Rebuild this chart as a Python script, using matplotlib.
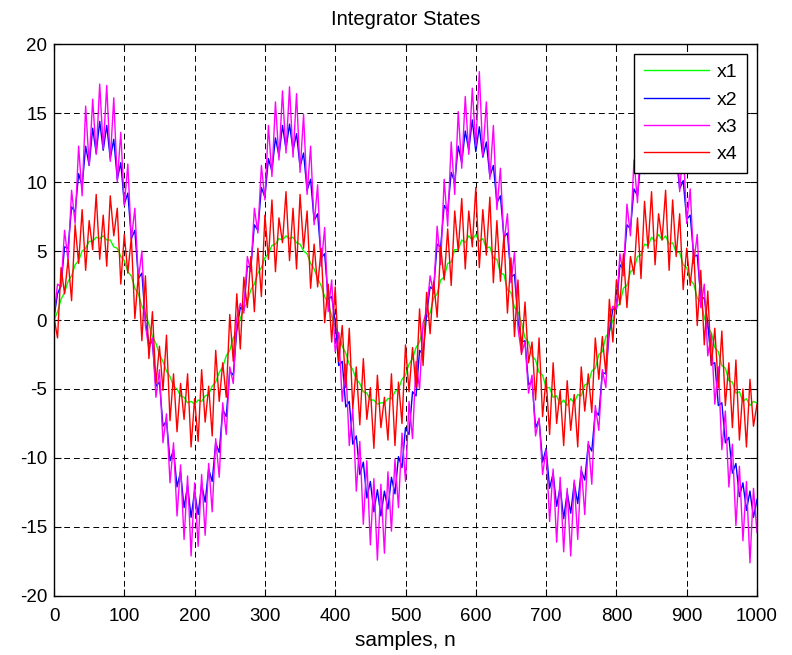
import numpy as np
import matplotlib
matplotlib.use('Agg')
import matplotlib.pyplot as plt

x1 = [0.0, 0.6, 1.5, 2.0, 2.8, 3.2, 4.0, 4.3, 5.0, 5.2, 5.7, 5.7, 6.0, 5.9, 6.1, 5.8, 5.8, 5.3, 5.2, 4.6,
      4.3, 3.5, 3.2, 2.3, 1.9, 1.0, 0.5, -0.3, -1.2, -1.7, -2.5, -3.0, -3.7, -4.1, -4.8, -5.0, -5.5, -5.6,
      -6.0, -5.9, -6.1, -5.8, -5.9, -5.5, -5.4, -4.8, -4.5, -3.8, -3.4, -2.6, -2.2, -1.3, -0.8,
      0.1, 0.8, 1.3, 2.2, 2.6, 3.4, 3.8, 4.5, 4.8, 5.4, 5.5, 5.9, 5.8, 6.1, 5.9, 6.0, 5.6, 5.5, 5.0, 4.8,
      4.1, 3.7, 3.0, 2.5, 1.7, 1.2, 0.3, -0.5, -1.0, -1.9, -2.4, -3.2, -3.6, -4.3, -4.6, -5.2, -5.3,
      -5.8, -5.8, -6.1, -6.0, -6.0, -5.7, -5.7, -5.2, -5.0, -4.3, -4.0, -3.2, -2.8, -2.0, -1.6, -0.6,
      0.2, 0.5, 1.6, 1.9, 2.9, 3.1, 4.1, 4.2, 5.1, 5.1, 5.8, 5.6, 6.1, 5.8, 6.2, 5.7, 5.9, 5.2, 5.3, 4.5,
      4.4, 3.4, 3.3, 2.2, 2.0, 0.9, 0.6, -0.2, -1.3, -1.6, -2.6, -2.9, -3.8, -4.0, -4.9, -4.9, -5.6,
      -5.5, -6.1, -5.8, -6.2, -5.7, -6.0, -5.4, -5.5, -4.7, -4.6, -3.7, -3.5, -2.5, -2.3, -1.2, -0.9,
      0.0, 0.9, 1.2, 2.3, 2.5, 3.5, 3.7, 4.6, 4.7, 5.5, 5.4, 6.0, 5.7, 6.2, 5.8, 6.1, 5.5, 5.6, 4.9, 4.9,
      4.0, 3.8, 2.9, 2.6, 1.6, 1.3, 0.2, -0.6, -0.9, -2.0, -2.3, -3.3, -3.5, -4.4, -4.5, -5.3, -5.2,
      -5.9, -5.7, -6.2, -5.9, -6.0]

x2 = [0.2, 1.9, 2.5, 5.3, 5.2, 8.2, 7.8, 10.6, 9.7, 12.6, 11.2, 13.9, 12.1, 14.4, 12.3, 14.1, 11.7, 13.1,
      10.2, 11.4, 8.4, 9.2, 5.9, 6.5, 3.0, 3.4, -0.1,
      -1.7, -1.6, -4.8, -4.5, -7.7, -7.3, -10.2, -9.4, -12.1, -11.0, -13.6, -12.0, -14.3, -12.4, -14.1,
      -11.9, -13.2, -10.8, -11.7, -8.9, -9.6, -6.5, -7.0, -3.7, -4.0, -0.7,
      0.9, 0.7, 3.9, 3.8, 6.9, 6.5, 9.6, 8.9, 11.7, 10.8, 13.2, 11.9, 14.1, 12.4, 14.2, 12.3, 13.5, 11.1,
      12.1, 9.4, 10.2, 7.2, 7.7, 4.5, 4.8, 1.5, 1.7,
      -0.1, -3.3, -3.0, -6.3, -5.9, -9.0, -8.4, -11.2, -10.3, -12.9, -11.7, -13.9, -12.3, -14.2, -12.4,
      -13.7, -11.4, -12.6, -9.9, -10.7, -7.8, -8.3, -5.2, -5.5, -2.2, -2.5,
      0.4, 2.4, 2.2, 5.5, 5.3, 8.3, 7.9, 10.7, 10.0, 12.6, 11.4, 13.7, 12.3, 14.5, 12.2, 14.0, 11.8, 12.9,
      10.4, 11.2, 8.5, 9.0, 6.0, 6.3, 3.1, 3.3, 0.0,
      -1.6, -1.5, -4.7, -4.4, -7.8, -7.2, -10.3, -9.3, -12.2, -11.1, -13.5, -12.1, -14.4, -12.5, -14.0,
      -11.8, -13.3, -10.9, -11.6, -9.0, -9.5, -6.6, -6.9, -3.8, -3.9, -0.8,
      0.8, 0.8, 4.0, 3.7, 6.9, 6.6, 9.5, 9.0, 11.6, 10.9, 13.1, 12.0, 14.0, 12.5, 14.3, 12.2, 13.6, 11.2,
      12.0, 9.5, 10.1, 7.3, 7.6, 4.6, 4.7, 1.6, 1.6,
      -0.2, -3.2, -3.1, -6.2, -6.0, -8.9, -8.5, -11.1, -10.4, -12.8, -11.8, -13.8, -12.4, -14.3, -13.0]

x3 = [0.3, 2.6, 2.4, 6.5, 4.3, 9.4, 7.0, 12.6, 9.0, 15.5, 11.2, 16.0, 12.0, 17.1, 12.4, 17.0, 11.5, 16.1,
      10.0, 13.6, 8.3, 11.3, 5.8, 8.1, 2.9, 5.0, -0.4,
      -2.1, -1.3, -5.6, -3.6, -8.9, -6.8, -11.8, -8.9, -14.2, -10.5, -15.9, -11.3, -17.1, -11.8, -16.4,
      -11.2, -15.6, -10.4, -13.9, -8.6, -11.4, -6.0, -8.3, -3.4, -4.6, 0.1,
      1.2, 0.5, 4.6, 3.5, 8.1, 6.3, 11.2, 8.7, 14.1, 10.4, 15.8, 11.6, 16.6, 12.1, 16.9, 11.8, 16.4, 10.7,
      14.9, 9.1, 12.6, 6.9, 9.8, 3.9, 6.7, 0.6, 2.9,
      -2.3, -0.9, -5.9, -3.2, -9.1, -6.4, -12.4, -8.8, -14.8, -10.2, -16.3, -11.5, -17.4, -11.9, -16.9,
      -11.0, -15.3, -10.1, -13.6, -8.2, -11.7, -5.9, -8.6, -3.0, -5.0, -0.2,
      0.6, 3.2, 1.9, 6.8, 4.0, 10.2, 6.8, 12.9, 9.1, 15.1, 11.0, 16.2, 12.0, 16.8, 12.6, 18.0, 11.9, 15.8,
      10.2, 14.1, 8.0, 11.0, 5.6, 7.7, 2.7, 4.9, -0.6,
      -2.4, -1.6, -5.3, -4.0, -8.4, -7.1, -11.2, -9.4, -14.6, -10.8, -16.1, -11.4, -16.8, -12.2, -17.1,
      -11.6, -15.9, -10.6, -14.1, -8.8, -11.9, -6.2, -8.0, -3.6, -4.9, 0.3,
      1.0, 0.8, 4.8, 3.2, 8.4, 6.1, 11.6, 8.5, 13.8, 10.6, 15.5, 11.3, 16.5, 12.3, 17.3, 11.9, 16.2, 10.9,
      14.7, 9.3, 12.7, 7.0, 9.5, 4.1, 6.2, 0.9, 2.6,
      -2.6, -1.0, -6.1, -3.4, -9.4, -6.6, -12.1, -9.0, -14.9, -10.6, -16.0, -11.7, -17.6, -12.2, -15.4]

x4 = [0.2, -1.3, 3.8, 1.9, 4.4, 1.4, 6.9, 4.1, 8.0, 3.6, 7.2, 5.1, 9.1, 4.4, 7.6, 3.9, 9.0, 6.1, 8.1, 2.6,
      6.2, 3.4, 6.0, 0.1, 3.3, -1.5, 3.2,
      -2.8, 0.6, -4.6, -1.9, -5.1, -1.1, -7.3, -3.9, -8.1, -4.6, -7.2, -3.9, -9.2, -5.7, -8.8, -3.6, -7.4,
      -4.8, -8.4, -2.2, -5.9, -3.1, -5.6, 0.4, -3.0, 1.9,
      -2.1, 3.1, 0.9, 4.6, 0.6, 5.2, 1.7, 7.6, 4.4, 8.7, 3.5, 7.4, 5.6, 9.3, 4.3, 8.1, 3.7, 9.1, 5.2, 7.9,
      2.3, 5.5, 2.4, 5.2, -0.2, 2.6, -1.6,
      2.4, -3.0, -0.4, -4.9, -0.6, -6.4, -3.4, -7.6, -2.8, -7.2, -4.9, -9.3, -4.0, -7.8, -5.6, -8.7, -3.9,
      -9.1, -4.5, -7.5, -1.8, -5.2, -2.0, -4.9, 0.8, -3.3,
      2.0, -1.0, 2.8, 0.2, 5.3, 2.9, 6.6, 2.5, 7.9, 5.0, 8.8, 3.7, 7.9, 5.3, 9.6, 3.8, 8.0, 4.7, 8.9, 2.7,
      7.2, 2.8, 6.1, 0.5, 4.5, -1.2, 2.9,
      -2.5, 1.3, -3.1, -1.6, -5.8, -1.3, -7.0, -4.2, -8.3, -3.1, -7.5, -5.1, -9.1, -4.4, -8.0, -5.4, -9.2,
      -3.4, -6.6, -3.9, -6.7, -1.3, -4.3, -1.2, -3.9, 1.5,
      -1.6, 2.9, 1.1, 4.8, 0.9, 4.6, 3.3, 7.4, 3.0, 8.6, 5.2, 9.3, 4.0, 7.7, 5.8, 9.4, 3.6, 8.7, 4.6, 7.7,
      2.2, 5.2, 2.5, 5.1, -0.4, 3.6, -1.8,
      2.1, -3.3, -0.6, -4.9, -0.8, -6.2, -3.1, -7.8, -2.9, -8.7, -5.0, -9.2, -4.3, -7.7, -6.1]

labels = ['x1', 'x2', 'x3', 'x4']
colors = ['#00ff00', '#0000ff', '#ff00ff', '#ff0000']

plt.rcParams['font.family'] = ['Liberation Sans', 'DejaVu Sans']
plt.rcParams['axes.unicode_minus'] = False

fig = plt.figure(figsize=(7.92, 6.55), dpi=100)
ax = fig.add_axes([0.0682, 0.0901, 0.8876, 0.8427])

for x, lab, c in zip([x1, x2, x3, x4], labels, colors):
    n = np.arange(len(x)) * 5
    ax.plot(n, x, color=c, lw=1.0, label=lab)

ax.set_xlim(0, 1000)
ax.set_ylim(-20, 20)
ax.set_xticks(np.arange(0, 1001, 100))
ax.set_yticks(np.arange(-20, 21, 5))
ax.tick_params(direction='in', length=5, top=True, right=True, labelsize=13.5)
ax.tick_params(axis='x', pad=9)
ax.tick_params(axis='y', pad=5)
ax.set_axisbelow(True)
ax.grid(True, color='black', linestyle=(0, (6, 4)), linewidth=0.7)
for s in ax.spines.values():
    s.set_linewidth(1.0)

ax.set_title('Integrator States', fontsize=14.5, pad=14)
ax.set_xlabel('samples, n', fontsize=15, labelpad=4)

leg = ax.legend(loc='upper right', bbox_to_anchor=(0.986, 0.982), borderaxespad=0,
                fontsize=14, handlelength=3.35, handletextpad=0.4, labelspacing=0.5,
                borderpad=0.5, fancybox=False, framealpha=1, edgecolor='black')
leg.get_frame().set_linewidth(1.0)
for h in leg.get_lines():
    h.set_linewidth(1.0)

fig.savefig('out.png', dpi=100)
